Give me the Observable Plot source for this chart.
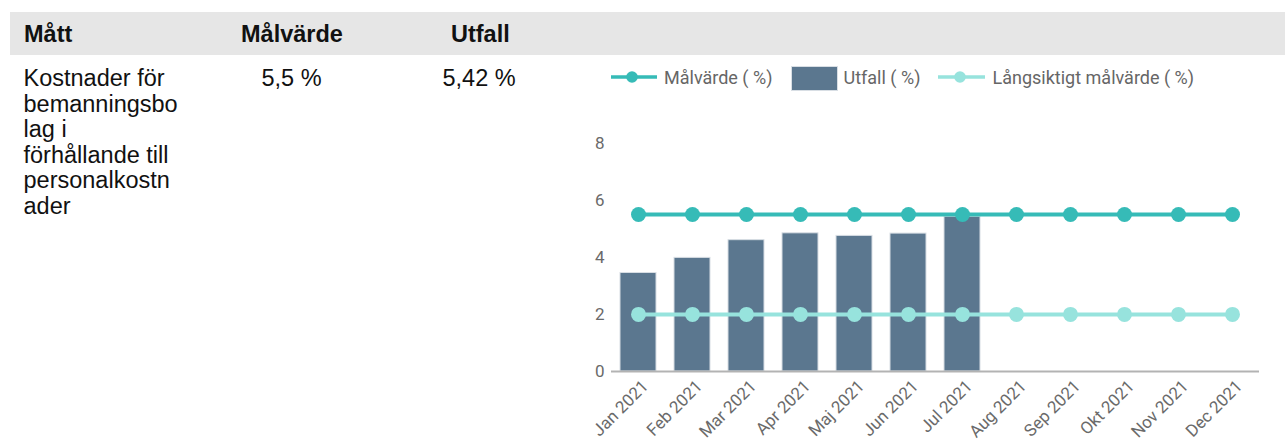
<!DOCTYPE html>
<html>
<head>
<meta charset="utf-8">
<script src="https://cdn.jsdelivr.net/npm/d3@7"></script>
<script src="https://cdn.jsdelivr.net/npm/@observablehq/plot@0.6"></script>
<style>
  html, body { margin: 0; padding: 0; background: #fff; }
  body { width: 1285px; height: 440px; position: relative; overflow: hidden; font-family: "Liberation Sans", Arial, sans-serif; }
  .hdr { position: absolute; left: 10px; top: 12px; width: 1275px; height: 43px; background: #e6e6e6; }
  .t { position: absolute; font-size: 23.5px; line-height: 25.5px; color: #111; white-space: nowrap; }
  .b { font-weight: bold; }
  .lg { position: absolute; font-family: Roboto, sans-serif; font-size: 18px; line-height: 21px; color: #666; white-space: nowrap; }
  #chart { position: absolute; left: 560px; top: 100px; }
</style>
</head>
<body>
<div class="hdr"></div>
<div class="t b" style="left:24px; top:21.8px;">Mått</div>
<div class="t b" style="left:241px; top:21.8px;">Målvärde</div>
<div class="t b" style="left:451px; top:21.8px;">Utfall</div>
<div class="t" style="left:23.5px; top:66.4px;">Kostnader för<br>bemanningsbo<br>lag i<br>förhållande till<br>personalkostn<br>ader</div>
<div class="t" style="left:261.5px; top:66.4px;">5,5 %</div>
<div class="t" style="left:442.5px; top:66.4px;">5,42 %</div>

<svg id="lg1" style="position:absolute; left:611px; top:70px;" width="46" height="14"><line x1="0" x2="46" y1="7" y2="7" stroke="#36bbb7" stroke-width="3.5"/><circle cx="21" cy="7" r="5.8" fill="#36bbb7"/></svg>
<div class="lg" style="left:664px; top:66.6px;">Målvärde ( %)</div>
<div style="position:absolute; left:790.5px; top:66px; width:45px; height:22.5px; background:#5b778f; border:0.5px solid #d8dee4;"></div>
<div class="lg" style="left:843.5px; top:66.6px;">Utfall ( %)</div>
<svg id="lg3" style="position:absolute; left:938px; top:70px;" width="47" height="14"><line x1="0" x2="47" y1="7" y2="7" stroke="#97e3dd" stroke-width="3.5"/><circle cx="22" cy="7" r="5.8" fill="#97e3dd"/></svg>
<div class="lg" style="left:992.5px; top:66.6px;">Långsiktigt målvärde ( %)</div>

<div id="chart"></div>
<script>
const months = ["Jan 2021","Feb 2021","Mar 2021","Apr 2021","Maj 2021","Jun 2021","Jul 2021","Aug 2021","Sep 2021","Okt 2021","Nov 2021","Dec 2021"];
const utfall = [3.45, 3.98, 4.6, 4.84, 4.75, 4.83, 5.42, null, null, null, null, null];
const malvarde = [5.5, 5.5, 5.5, 5.5, 5.5, 5.5, 5.5, 5.5, 5.5, 5.5, 5.5, 5.5];
const langsiktigt = [2, 2, 2, 2, 2, 2, 2, 2, 2, 2, 2, 2];
const yTicks = [0, 2, 4, 6, 8];

const rows = months.map((m, i) => ({month: m, utfall: utfall[i], mal: malvarde[i], lang: langsiktigt[i]}));

const chart = Plot.plot({
  width: 725,
  height: 340,
  marginLeft: 51,
  marginRight: 26,
  marginTop: 42.6,
  marginBottom: 69,
  style: {fontFamily: "Roboto, sans-serif", fontSize: "17px", color: "#6a6a6a", background: "transparent"},
  x: {type: "band", domain: months, paddingInner: 1/3, paddingOuter: 1/6, label: null},
  y: {domain: [0, 8], label: null},
  marks: [
    Plot.barY(rows.filter(d => d.utfall != null), {x: "month", y: "utfall", fill: "#5b778f", stroke: "#d8dee4", strokeWidth: 1}),
    Plot.ruleY([0], {stroke: "#b3b3b3", strokeWidth: 2}),
    Plot.lineY(rows, {x: "month", y: "lang", stroke: "#97e3dd", strokeWidth: 4}),
    Plot.dot(rows, {x: "month", y: "lang", fill: "#97e3dd", r: 7.5}),
    Plot.lineY(rows, {x: "month", y: "mal", stroke: "#36bbb7", strokeWidth: 4}),
    Plot.dot(rows, {x: "month", y: "mal", fill: "#36bbb7", r: 7.5}),
    Plot.axisY({ticks: yTicks, tickSize: 0, tickPadding: 7, label: null, fontSize: 17}),
    Plot.axisX({tickRotate: -45, tickSize: 0, tickPadding: 12, dx: 7, label: null, fontSize: 17})
  ]
});
document.getElementById("chart").appendChild(chart);
</script>
</body>
</html>
